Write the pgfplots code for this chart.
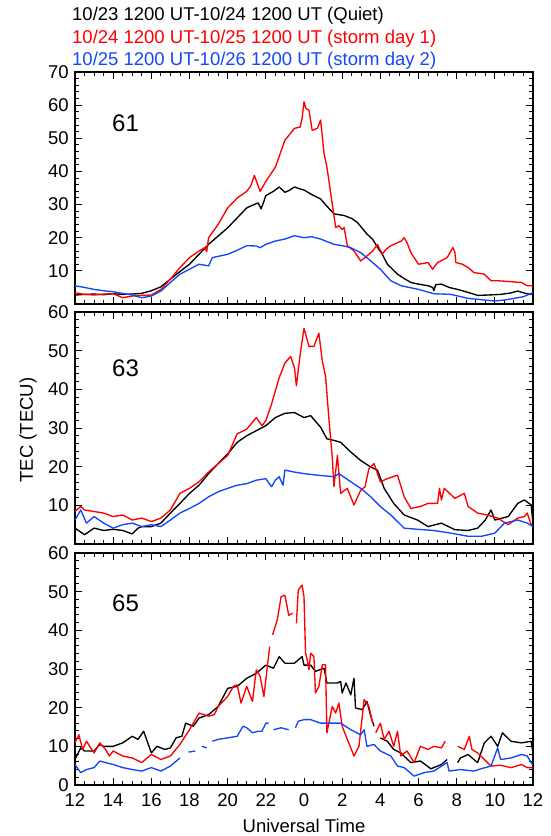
\documentclass[border=0pt]{standalone}
\usepackage{fontspec}
\setmainfont{Liberation Sans}
\usepackage{pgfplots}
\usepackage{pgfplotstable}
\pgfplotsset{compat=1.18}
\definecolor{mred}{RGB}{255,0,0}
\definecolor{mblue}{RGB}{20,70,250}

% ---------------- Panel 61 ----------------
\pgfplotstableread{
t v
12 2.7
12.5 2.9
13 3.0
13.5 2.8
14 3.1
14.5 2.9
15 3.0
15.5 3.2
16 4.0
16.5 5.2
17 7.5
17.5 9.8
18 12.0
18.5 15.0
19 18.0
19.5 20.5
20 23.0
20.5 26.0
21 29.0
21.3 29.8
21.6 30.5
21.75 28.7
21.9 31.0
22 32.7
22.4 34.0
22.7 35.3
23 33.7
23.2 34.2
23.5 35.3
23.8 34.7
24 34.4
24.35 33.2
24.87 31.7
25.2 29.5
25.57 27.2
26.1 26.7
26.5 25.8
26.8 24.6
27.3 21.1
27.6 19.5
27.85 17.1
28.1 15.0
28.37 12.0
28.9 9.0
29.3 7.5
29.6 6.5
30 6.0
30.5 5.5
30.75 5.0
30.8 4.0
30.9 5.8
31.2 6.0
31.6 5.0
32.05 4.4
32.6 3.5
33.1 2.6
33.6 2.7
34.3 2.9
34.8 3.3
35.2 3.9
35.6 3.2
35.9 2.9
36 3.5
}\qA
\pgfplotstableread{
t v
12 3.4
12.5 2.9
13 2.7
13.5 3.0
14 3.1
14.5 1.9
15 2.4
15.5 2.6
16 2.7
16.5 4.4
17 7.5
17.5 11.0
18 14.0
18.5 16.0
18.8 17.0
18.9 15.8
19 20.0
19.5 24.0
20 29.0
20.5 32.0
21 34.0
21.2 35.5
21.4 38.8
21.7 34.0
22 37.0
22.5 41.3
23 49.4
23.5 53.0
23.8 53.4
23.9 56.0
24 61.0
24.1 59.0
24.26 58.5
24.43 52.4
24.7 53.0
24.87 55.5
25.05 45.4
25.2 41.3
25.48 30.2
25.66 23.1
25.83 23.6
26.0 22.5
26.1 23.1
26.27 17.6
26.62 16.0
26.97 13.0
27.3 14.5
27.6 16.0
27.85 18.0
28.1 15.0
28.3 16.5
28.55 17.6
28.8 18.2
29.1 19.0
29.25 20.0
29.4 18.5
29.6 15.5
30 12.0
30.5 12.5
30.74 10.5
31 12.5
31.5 14.0
31.8 17.0
31.9 15.8
31.96 12.5
32.3 12.0
32.6 11.0
32.9 9.5
33.45 9.0
33.8 7.0
34.2 7.0
34.7 6.8
35.1 6.6
35.4 6.5
35.7 5.5
36 5.5
}\rA
\pgfplotstableread{
t v
12 5.5
12.5 5.0
13 4.4
13.5 4.0
14 3.7
14.5 3.2
15 2.7
15.5 1.9
16 2.4
16.5 3.9
17 6.5
17.5 9.0
18 10.5
18.5 12.0
19 11.5
19.2 14.0
19.6 14.5
20 15.0
20.5 16.2
21 17.6
21.5 17.5
21.7 17.0
22 18.0
22.5 19.0
23 19.6
23.5 20.6
24 20.0
24.4 20.3
24.87 19.6
25.57 18.0
26 17.6
26.45 17.0
26.97 15.5
27.5 13.0
28 10.5
28.55 7.0
29.1 5.5
30 4.4
30.8 3.1
31.7 2.9
32.6 1.7
33.3 1.3
34 0.9
34.5 1.2
35 1.7
35.5 2.2
36 3.4
}\bA

% ---------------- Panel 63 ----------------
\pgfplotstableread{
t v
12 4.1
12.5 2.4
13 4.1
13.5 3.5
14 3.8
14.5 3.5
15 2.6
15.3 4.1
15.5 4.5
16 4.5
16.5 5.4
17 8.0
17.5 10.5
18 13.1
18.5 15.2
19 18.2
19.5 20.8
20 23.3
20.5 26.3
21 28.0
21.5 29.3
22 30.6
22.5 32.7
23 33.8
23.5 34.0
24 32.7
24.35 33.2
24.87 30.2
25.2 27.2
25.57 26.8
25.92 26.3
26.45 23.8
26.97 21.6
27.5 19.9
27.85 19.1
28.2 14.4
28.7 10.5
29.25 7.5
29.95 6.2
30.5 4.5
31.2 5.4
31.9 3.7
32.6 3.5
33.1 4.1
33.5 6.2
33.8 8.8
34.0 6.2
34.7 7.1
35.2 10.5
35.55 11.4
35.9 10.1
36 5.4
}\qB
\pgfplotstableread{
t v
12 8.4
12.3 9.7
12.5 8.8
13 8.4
13.5 8.0
14 7.1
14.5 7.5
15 6.2
15.5 6.7
16 5.8
16.5 6.7
17 8.8
17.5 13.1
18 14.4
18.5 16.1
19 18.6
19.5 20.8
20 22.9
20.5 28.5
21 29.7
21.5 32.7
21.8 30.6
22 31.9
22.3 36.2
22.7 43.0
23 46.8
23.3 48.5
23.5 45.6
23.6 40.9
23.8 49.0
24 55.8
24.26 51.1
24.52 51.1
24.78 54.5
24.96 47.3
25.13 43.4
25.3 32.7
25.48 22.5
25.57 14.8
25.75 22.9
25.92 13.1
26.27 14.4
26.62 10.1
26.97 13.9
27.2 14.8
27.4 19.5
27.67 20.8
28 16.1
28.37 16.9
28.9 17.8
29.25 12.2
29.6 9.2
30.1 9.7
30.5 10.5
31 10.5
31.1 14.4
31.2 11.4
31.35 14.4
31.9 11.8
32.4 13.1
32.6 9.7
33.1 8.0
33.6 7.5
34.15 6.7
34.7 5.0
35.2 6.7
35.55 7.1
35.7 8.0
35.9 5.0
36 4.5
}\rB
\pgfplotstableread{
t v
12 6.2
12.3 8.8
12.6 5.4
13 7.1
13.5 5.4
14 4.1
14.5 5.0
15 5.4
15.5 4.5
16 5.0
16.5 4.5
17 6.2
17.5 8.0
18 9.2
18.5 10.5
19 12.2
19.5 13.5
20 14.4
20.5 15.2
21 15.6
21.5 16.5
22 16.9
22.3 14.8
22.5 16.5
22.7 17.4
22.9 15.2
23 19.1
23.5 18.6
24 18.2
24.7 17.8
25.57 17.4
25.83 18.2
26.45 16.1
26.97 14.4
27.5 12.2
28 9.7
28.55 7.5
29.25 4.1
29.95 3.8
30.8 3.5
31.7 2.8
32.6 2.0
33.3 2.0
34 2.8
34.5 5.4
35.2 6.2
35.7 5.4
36 4.5
}\bB

% ---------------- Panel 65 ----------------
\pgfplotstableread{
t v
12 6.6
12.3 9.6
12.5 8.8
13 8.8
13.3 10.5
13.5 10.0
14 10.0
14.5 10.9
15 12.6
15.3 11.8
15.6 13.9
16 8.3
16.3 10.0
16.7 9.2
17 9.6
17.3 12.2
17.6 12.6
17.8 16.0
18.2 15.2
18.5 17.3
19 18.2
19.5 20.3
20 25.0
20.5 25.5
21 27.6
21.5 28.9
22 31.0
22.4 30.2
22.7 33.2
23 31.5
23.5 31.5
23.9 33.2
24 31.0
24.35 31.0
24.6 29.4
25.05 30.2
25.2 26.4
25.75 26.4
25.92 26.8
26 23.8
26.2 26.4
26.45 23.3
26.62 27.6
26.7 19.9
27.05 19.5
27.3 21.6
27.5 17.8
27.67 15.2
27.7 nan
28 12.2
28.37 11.3
28.7 9.2
29.07 8.3
29.6 5.8
30.1 6.2
30.65 4.2
31.2 5.3
31.5 6.6
31.7 nan
32.05 5.8
32.2 7.0
32.6 7.9
32.9 6.6
33.1 5.8
33.45 10.9
33.8 12.6
34.15 10.0
34.4 13.5
34.85 11.3
35.4 10.9
35.9 11.3
36 8.3
}\qC
\pgfplotstableread{
t v
12 10.9
12.2 13.0
12.4 9.2
12.6 11.3
13 8.3
13.3 10.9
13.6 9.2
13.8 7.5
14 8.8
14.5 7.5
15 7.0
15.5 5.8
16 7.9
16.5 6.6
17 7.5
17.5 10.5
18 14.3
18.5 18.6
19 17.8
19.3 18.2
19.5 20.3
20 22.9
20.3 25.5
20.5 25.9
20.7 21.2
21 25.5
21.3 21.6
21.5 29.8
21.7 28.1
21.9 22.9
22.2 35.8
22.3 nan
22.35 38.8
22.6 42.7
22.8 48.7
23.0 49.1
23.2 43.9
23.4 44.4
23.5 nan
23.6 41.8
23.7 50.4
23.9 51.7
24.0 48.7
24.08 34.1
24.17 32.4
24.26 29.8
24.35 34.1
24.52 33.2
24.6 23.8
24.78 25.5
24.96 31.1
25.13 31.1
25.2 13.5
25.48 20.3
25.66 18.6
25.83 21.2
26 15.2
26.27 11.8
26.62 7.5
26.88 10.0
27.15 22.1
27.4 20.3
27.6 16.0
27.7 nan
27.76 13.5
28 16.0
28.2 11.8
28.46 13.9
28.7 10.0
28.9 13.9
29.07 7.5
29.4 8.8
29.77 5.8
30.1 10.0
30.5 9.2
30.8 10.0
31.2 9.6
31.4 11.3
31.7 nan
32.05 10.0
32.4 9.2
32.66 12.6
32.8 9.2
33.1 8.3
33.45 6.6
33.8 4.9
34.3 5.1
34.85 4.5
35.4 5.3
35.7 4.5
36 4.5
}\rC
\pgfplotstableread{
t v
12 5.3
12.3 3.2
12.6 4.0
13 4.5
13.3 6.2
13.6 5.8
14 5.3
14.5 4.5
15 4.0
15.5 3.6
16 4.5
16.5 3.6
17 4.9
17.5 7.0
17.7 nan
17.95 8.5
18.3 8.8
18.5 nan
18.65 10.0
18.9 9.6
19.0 nan
19.2 11.3
19.5 11.8
20 12.2
20.5 12.6
20.8 15.2
21 14.8
21.3 13.5
21.6 13.9
21.8 13.9
22 16.0
22.15 16.0
22.3 nan
22.4 14.3
22.8 14.8
23.2 14.3
23.4 nan
23.55 14.8
23.7 16.5
24 16.9
24.35 16.9
24.87 16.0
25.4 16.0
25.92 16.0
26.45 14.3
26.97 13.0
27.15 14.3
27.3 10.0
27.67 10.5
28 8.8
28.55 7.5
28.9 4.9
29.25 4.5
29.77 2.3
30.3 3.2
30.8 3.6
31.5 5.8
31.6 3.6
32.2 4.0
32.9 3.6
33.27 4.2
33.8 4.9
34.15 9.6
34.3 6.6
34.85 7.0
35.4 7.9
35.7 7.5
35.9 5.8
36 5.1
}\bC

\pgfplotsset{
  panel/.style={
    scale only axis, width=458pt, height=232pt, anchor=north west,
    xmin=12, xmax=36, xtick={12,14,...,36},
    minor x tick num=3, minor y tick num=4,
    tick align=inside,
    major tick length=7pt, minor tick length=4pt,
    axis line style={line width=1.2pt},
    every tick/.style={black, line width=0.9pt},
    tick label style={font=\fontsize{18.5}{20}\selectfont},
    xticklabel style={yshift=-2.5pt},
    /pgf/number format/assume math mode=true,
    unbounded coords=jump,
    every axis plot/.append style={line width=1.35pt, line join=round, mark=none},
  }
}

\begin{document}
\fontsize{18.5}{22}\selectfont
\begin{tikzpicture}
\useasboundingbox (0pt,0pt) rectangle (550pt,-836pt);

\node[anchor=base west, inner sep=0pt] at (72pt,-20.7pt) {10/23 1200 UT-10/24 1200 UT (Quiet)};
\node[anchor=base west, inner sep=0pt, text=mred] at (72pt,-43.3pt) {10/24 1200 UT-10/25 1200 UT (storm day 1)};
\node[anchor=base west, inner sep=0pt, text=mblue] at (72pt,-65pt) {10/25 1200 UT-10/26 1200 UT (storm day 2)};

\begin{axis}[panel, at={(75pt,-72pt)}, ymin=0, ymax=70, ytick={10,20,...,70}, xticklabels={}]
\addplot[black] table[x=t,y=v] {\qA};
\addplot[mred] table[x=t,y=v] {\rA};
\addplot[mblue] table[x=t,y=v] {\bA};
\end{axis}
\node[anchor=base west, inner sep=0pt, font=\fontsize{24}{26}\selectfont] at (112pt,-131pt) {61};

\begin{axis}[panel, at={(75pt,-312pt)}, ymin=0, ymax=60, ytick={10,20,...,60}, xticklabels={}]
\addplot[black] table[x=t,y=v] {\qB};
\addplot[mred] table[x=t,y=v] {\rB};
\addplot[mblue] table[x=t,y=v] {\bB};
\end{axis}
\node[anchor=base west, inner sep=0pt, font=\fontsize{24}{26}\selectfont] at (112pt,-376pt) {63};

\begin{axis}[panel, at={(75pt,-553pt)}, ymin=0, ymax=60, ytick={0,10,...,60},
  xticklabels={12,14,16,18,20,22,0,2,4,6,8,10,12}]
\addplot[black] table[x=t,y=v] {\qC};
\addplot[mred] table[x=t,y=v] {\rC};
\addplot[mblue] table[x=t,y=v] {\bC};
\end{axis}
\node[anchor=base west, inner sep=0pt, font=\fontsize{24}{26}\selectfont] at (112pt,-611pt) {65};

\node[rotate=90, anchor=center, inner sep=0pt] at (28pt,-430pt) {TEC (TECU)};
\node[anchor=base, inner sep=0pt] at (304pt,-832pt) {Universal Time};
\end{tikzpicture}
\end{document}
